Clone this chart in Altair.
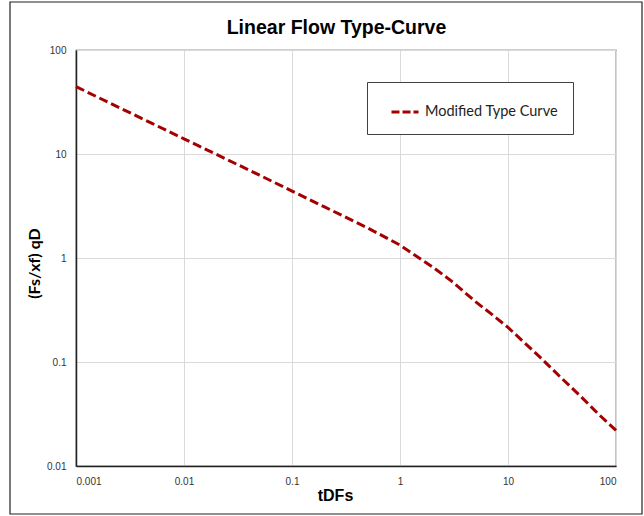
import altair as alt
import pandas as pd

# ---- data ----
t_values = [0.001, 0.002, 0.005, 0.01, 0.02, 0.05, 0.1, 0.2, 0.5, 1,
            2, 3, 5, 7, 10, 20, 30, 50, 70, 100]
qd_values = [44.5, 31.3, 19.8, 14.0, 9.9, 6.26, 4.4, 3.1, 1.95, 1.33,
             0.82, 0.60, 0.38, 0.29, 0.215, 0.11, 0.073, 0.044, 0.031, 0.022]
series_name = ["Modified Type Curve"] * len(t_values)

x_ticks = [0.001, 0.01, 0.1, 1, 10, 100]
y_ticks = [0.01, 0.1, 1, 10, 100]
chart_title = ["Linear Flow Type-Curve"]

df = pd.DataFrame({"t": t_values, "qd": qd_values, "series": series_name})

W, H = 540, 416

line = alt.Chart(df).mark_line(strokeWidth=3, strokeDash=[9, 4]).encode(
    x=alt.X("t:Q",
            scale=alt.Scale(type="log", domain=[0.001, 100], nice=False),
            axis=alt.Axis(values=x_ticks, format="~g", title="tDFs",
                          titleX=259, titleY=29, titleBaseline="middle",
                          titleAlign="center", titleFont="Liberation Sans",
                          titleFontSize=16, titleFontWeight="bold",
                          titleColor="#000000")),
    y=alt.Y("qd:Q",
            scale=alt.Scale(type="log", domain=[0.01, 100], nice=False),
            axis=alt.Axis(values=y_ticks, format="~g", title="(Fs/xf) qD",
                          titleX=-42, titleY=213, titleAngle=270,
                          titleBaseline="middle", titleAlign="center",
                          titleFont="Lato", titleFontSize=16,
                          titleFontWeight="bold", titleColor="#000000")),
    color=alt.Color("series:N",
                    scale=alt.Scale(range=["#a50000"]),
                    legend=alt.Legend(title=None, orient="none",
                                      legendX=291, legendY=32,
                                      symbolType="stroke",
                                      symbolStrokeWidth=3,
                                      symbolDash=[8, 3],
                                      symbolSize=729,
                                      symbolOffset=8,
                                      labelOffset=5,
                                      labelFont="Lato", labelFontSize=14.5,
                                      labelColor="#222222",
                                      strokeColor="#404040",
                                      fillColor="#ffffff",
                                      padding=15)),
)

border = alt.Chart(pd.DataFrame({"a": [0]})).mark_rect(
    fill="transparent", stroke="#222222", strokeWidth=1.2
).encode(
    x=alt.value(-66), x2=alt.value(566), y=alt.value(-48), y2=alt.value(464)
)

title = alt.Chart(pd.DataFrame({"label": chart_title})).mark_text(
    font="Liberation Sans", fontSize=19.5, fontWeight="bold",
    color="#000000", align="center", baseline="middle"
).encode(
    text="label:N", x=alt.value(260.5), y=alt.value(-22)
)

chart = alt.layer(border, line, title).properties(
    width=W, height=H,
    autosize=alt.AutoSizeParams(type="none"),
    padding={"left": 76, "top": 50, "right": 28, "bottom": 50},
    background="#ffffff",
).configure_view(
    stroke="#404040", strokeWidth=1.2
).configure_axis(
    grid=True, gridColor="#d9d9d9", gridWidth=1,
    ticks=False, domainColor="#222222", domainWidth=1.5,
    labelFont="Liberation Sans", labelFontSize=10, labelColor="#333333",
    labelPadding=10,
)

chart.save("out.html", embed_options={"renderer": "svg", "actions": False})
